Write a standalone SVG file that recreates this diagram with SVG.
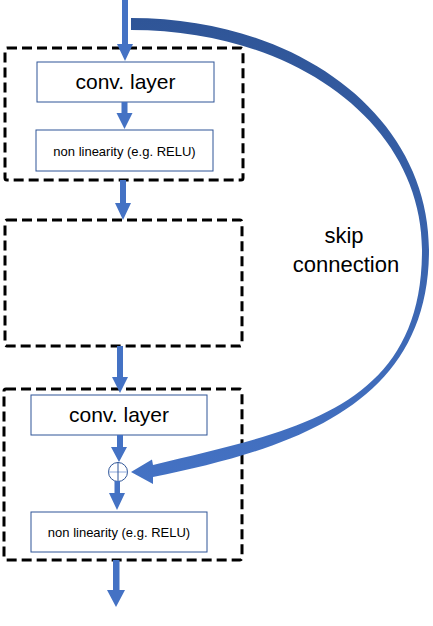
<svg xmlns="http://www.w3.org/2000/svg" width="433" height="626" viewBox="0 0 433 626">
<defs>
<linearGradient id="skipGrad" x1="0" y1="0" x2="0" y2="1">
<stop offset="0" stop-color="#2F5597"/>
<stop offset="1" stop-color="#4472C4"/>
</linearGradient>
<style>
.dash{fill:none;stroke:#000;stroke-width:3;stroke-dasharray:10 5;}
.box{fill:#fff;stroke:#2F5597;stroke-width:1;}
.big{font-family:"Liberation Sans",Arial,sans-serif;font-size:21px;fill:#000;text-anchor:middle;}
.small{font-family:"Liberation Sans",Arial,sans-serif;font-size:13px;fill:#000;text-anchor:middle;}
.lbl{font-family:"Liberation Sans",Arial,sans-serif;font-size:22px;fill:#000;text-anchor:middle;}
.arr{fill:#4472C4;}
</style>
</defs>
<rect width="433" height="626" fill="#fff"/>
<g id="block1">
<rect class="dash" x="5" y="48" width="238" height="132" rx="2"/>
</g>
<g id="conv1">
<rect class="box" x="37" y="62" width="177" height="40"/>
<text class="big" x="125.5" y="89">conv. layer</text>
</g>
<g id="nonlin1">
<rect class="box" x="36" y="130" width="177" height="41"/>
<text class="small" x="124.5" y="156">non linearity (e.g. RELU)</text>
</g>
<g id="block2">
<rect class="dash" x="5" y="220" width="237" height="126" rx="2"/>
</g>
<g id="block3">
<rect class="dash" x="4" y="389" width="238" height="171" rx="2"/>
</g>
<g id="conv3">
<rect class="box" x="31" y="395" width="176" height="40"/>
<text class="big" x="119" y="422">conv. layer</text>
</g>
<g id="sum">
<circle cx="118" cy="472" r="9.5" fill="#fff" stroke="#2F5597" stroke-width="1"/>
<line x1="108.5" y1="472" x2="127.5" y2="472" stroke="#8FAADC" stroke-width="1"/>
<line x1="118" y1="462.5" x2="118" y2="481.5" stroke="#2F5597" stroke-width="1"/>
</g>
<g id="nonlin3">
<rect class="box" x="31" y="512" width="176" height="40"/>
<text class="small" x="119" y="537">non linearity (e.g. RELU)</text>
</g>
<g id="label">
<text class="lbl" x="344" y="243">skip</text>
<text class="lbl" x="346" y="272">connection</text>
</g>
<g id="connectors">
<path class="arr" d="M122,0 H128 V44 H133 L125,61 L117,44 H122 Z"/>
<path class="arr" d="M121.5,102 H127.5 V113 H132.5 L124.5,129 L116.5,113 H121.5 Z"/>
<path class="arr" d="M120,180 H126 V203 H131 L123,220 L115,203 H120 Z"/>
<path class="arr" d="M117,346 H123 V377 H128 L120,393 L112,377 H117 Z"/>
<path class="arr" d="M117,435 H123 V447 H127 L119,462 L111,447 H117 Z"/>
<path class="arr" d="M114.5,481 H120 V493 H125 L117,510 L109,493 H114.5 Z"/>
<path class="arr" d="M113,560 H119.5 V590 H125 L116,607 L107,590 H113 Z"/>
<path fill="url(#skipGrad)" d="M131,18 C298,18 429,116 429,250 C429,400 303,447 153,477 L153,484 L131,472 L152,459.5 L153,465 C293,431 422,410 422,250 C422,124 295,30 131,30 Z"/>
</g>
</svg>
